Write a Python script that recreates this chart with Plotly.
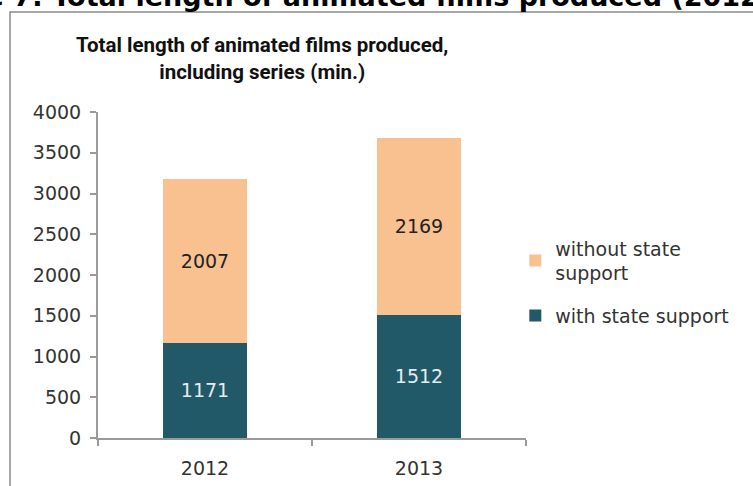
import plotly.graph_objects as go

# Animated film output by year, minutes
years = ["2012", "2013"]
with_support = [1171, 1512]
without_support = [2007, 2169]

y_ticks = [0, 500, 1000, 1500, 2000, 2500, 3000, 3500, 4000]

DARK = "#215968"
PEACH = "#F9C090"
TICK_FONT = dict(family="DejaVu Sans", size=19, color="#333333")

fig = go.Figure()
fig.add_trace(go.Bar(
    x=years, y=with_support, name="with state support",
    legendgroup="with", legendrank=2,
    marker=dict(color=DARK, line=dict(width=0)),
    text=with_support, texttemplate="%{text}", textposition="inside",
    insidetextanchor="middle",
    textfont=dict(family="DejaVu Sans", size=19, color="#E6ECEE"),
))
fig.add_trace(go.Bar(
    x=years, y=without_support, name="without state<br>support",
    legendgroup="without", legendrank=1,
    marker=dict(color=PEACH, line=dict(width=0)),
    text=without_support, texttemplate="%{text}", textposition="inside",
    insidetextanchor="middle",
    textfont=dict(family="DejaVu Sans", size=19, color="#222222"),
))

fig.update_layout(
    width=753, height=486,
    margin=dict(l=98, r=227, t=112, b=48),
    barmode="stack", bargap=0.605,
    plot_bgcolor="white", paper_bgcolor="white",
    uniformtext=dict(mode=False),
    showlegend=True,
    legend=dict(
        x=0.975, y=0.64, xanchor="left", yanchor="top",
        traceorder="grouped", font=TICK_FONT,
        itemwidth=30, tracegroupgap=15,
    ),
    xaxis=dict(
        showline=True, linecolor="#9A9A9A", linewidth=2,
        ticks="outside", tickson="boundaries", ticklen=6, tickcolor="#9A9A9A",
        tickwidth=2, tickfont=TICK_FONT, showgrid=False,
        ticklabelstandoff=12, automargin=False,
    ),
    yaxis=dict(
        range=[0, 4000], tickvals=y_ticks,
        showline=True, linecolor="#9A9A9A", linewidth=2,
        ticks="outside", ticklen=6, tickcolor="#9A9A9A", tickwidth=2,
        tickfont=TICK_FONT, showgrid=False, zeroline=False,
        ticklabelstandoff=5, automargin=False,
    ),
)

# chart title
fig.add_annotation(
    text="<b>Total length of animated films produced,<br>including series (min.)</b>",
    xref="paper", yref="paper", x=0.383, y=1.163,
    xanchor="center", yanchor="middle", showarrow=False,
    font=dict(family="Liberation Sans Narrow, Roboto", size=20.5, color="#111111"),
)

# section heading running off the top edge
fig.add_annotation(
    text="<b>Figure 7: Total length of animated films produced (2012-2013)</b>",
    xref="paper", yref="paper", x=-0.454, y=1.300,
    xanchor="left", yanchor="bottom", showarrow=False,
    font=dict(family="DejaVu Sans", size=27, color="#000000"),
)

# chart frame
fig.add_shape(
    type="rect", xref="paper", yref="paper",
    x0=-0.2056, x1=1.8, y0=-0.3, y1=1.3067,
    line=dict(color="#8C8C8C", width=1.5), fillcolor="rgba(0,0,0,0)",
    layer="below",
)

fig.write_html("out.html")
